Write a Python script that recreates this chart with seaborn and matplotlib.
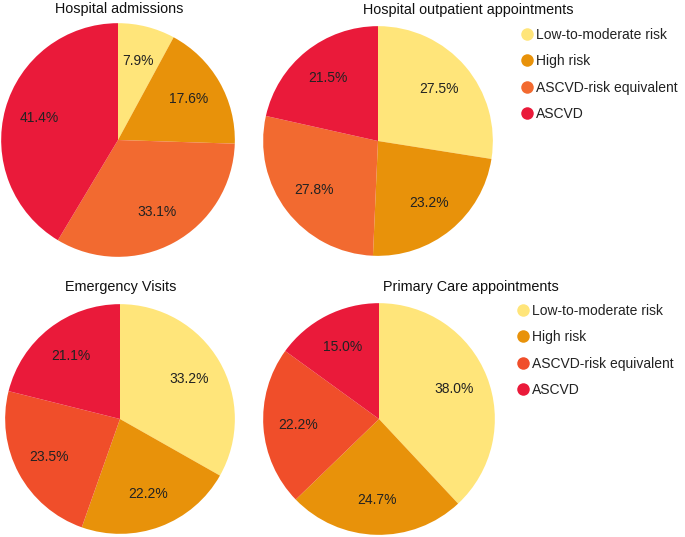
import matplotlib
matplotlib.use("Agg")
import matplotlib.pyplot as plt
from matplotlib.lines import Line2D
import seaborn as sns

categories = ["Low-to-moderate risk", "High risk", "ASCVD-risk equivalent", "ASCVD"]
titles = ["Hospital admissions", "Hospital outpatient appointments",
          "Emergency Visits", "Primary Care appointments"]
hospital_admissions = [7.9, 17.6, 33.1, 41.4]
outpatient = [27.5, 23.2, 27.8, 21.5]
emergency = [33.2, 22.2, 23.5, 21.1]
primary_care = [38.0, 24.7, 22.2, 15.0]

colors_top = ["#FFE57A", "#E8920A", "#F26A30", "#EA1A3A"]
colors_bottom = ["#FFE57A", "#E8920A", "#F04E2A", "#EA1A3A"]

sns.set_theme(style="white")
plt.rcParams["font.family"] = ["Liberation Sans", "DejaVu Sans"]

W, H = 685, 537
fig = plt.figure(figsize=(W / 100, H / 100), dpi=100)

panels = [
    (hospital_admissions, colors_top, (118, 140, 118), (119, 9)),
    (outpatient, colors_top, (378, 141, 116), (468, 10)),
    (emergency, colors_bottom, (120, 419, 116), (121, 287)),
    (primary_care, colors_bottom, (379, 419, 117), (471, 287)),
]

for (vals, cols, (cx, cy, r), (tx, ty)), title in zip(panels, titles):
    ax = fig.add_axes([(cx - r) / W, (H - cy - r) / H, 2 * r / W, 2 * r / H])
    ax.pie(vals, colors=cols, startangle=90, counterclock=False,
           autopct="%.1f%%", pctdistance=0.7, radius=1,
           textprops=dict(fontsize=10, color="#222222"),
           wedgeprops=dict(linewidth=0))
    ax.set_xlim(-1.01, 1.01)
    ax.set_ylim(-1.01, 1.01)
    ax.axis("off")
    fig.text(tx / W, 1 - ty / H, title, ha="center", va="center",
             fontsize=10.4, color="#111111")

for cols, x0, ytop in [(colors_top, 516, 25), (colors_bottom, 512, 301)]:
    handles = [Line2D([0], [0], marker="o", linestyle="none", markersize=9,
                      markerfacecolor=c, markeredgewidth=0) for c in cols]
    fig.legend(handles, categories, loc="upper left",
               bbox_to_anchor=(x0 / W, 1 - ytop / H), frameon=False,
               fontsize=10, labelspacing=0.9, handletextpad=0.05,
               handlelength=1.2, borderaxespad=0, borderpad=0.2,
               labelcolor="#222222")

fig.savefig("out.png", dpi=100)
